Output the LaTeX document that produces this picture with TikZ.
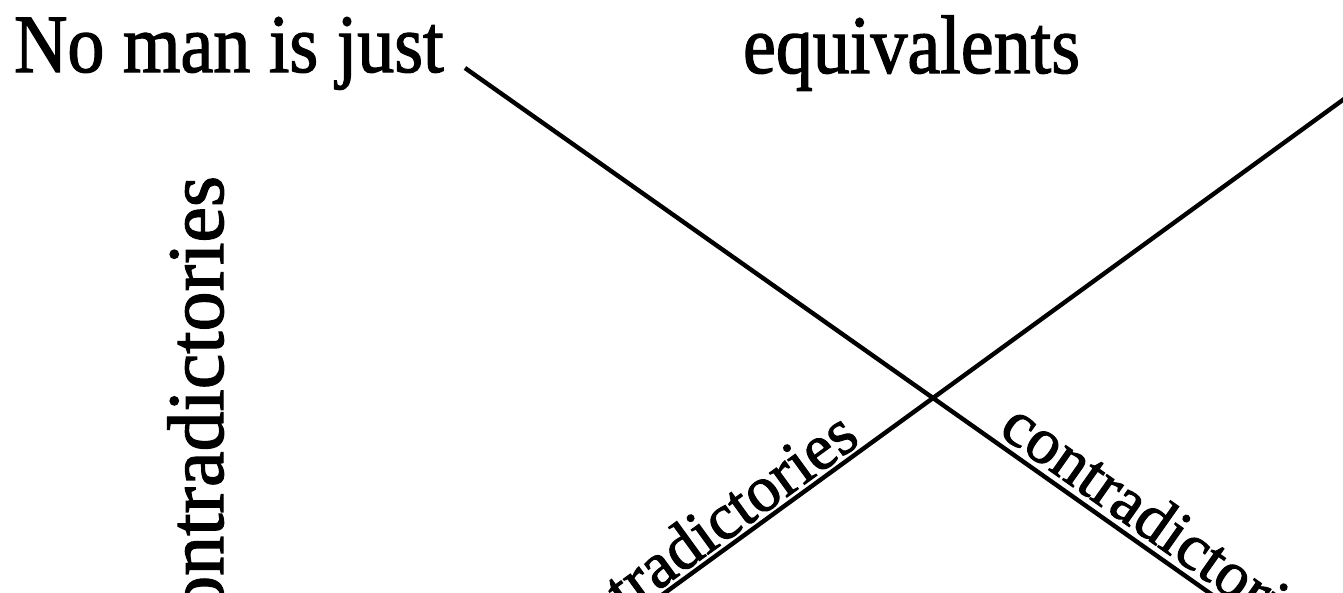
\documentclass[tikz,border=0pt]{standalone}
\usepackage{fontspec}
\setmainfont{Liberation Serif}[FakeBold=1.6]
\begin{document}
\begin{tikzpicture}[x=1pt,y=-1pt,
  lbl/.style={inner sep=0pt, outer sep=0pt, font=\fontsize{74}{80}\selectfont},
  vlbl/.style={inner sep=0pt, outer sep=0pt, font=\fontsize{80}{86}\selectfont},
  dlbl/.style={inner sep=0pt, outer sep=0pt, font=\fontsize{65}{70}\selectfont},
  conn/.style={line width=4.4pt, line cap=butt, black}]
\useasboundingbox (0,0) rectangle (1343,592);
\clip (0,0) rectangle (1343,592);
% labels
\node[lbl, anchor=base west, yscale=1.12] (noman) at (14,72) {No man is just};
\node[lbl, anchor=base west, yscale=1.12] (equiv) at (743,73) {equivalents};
\node[vlbl, anchor=base east, rotate=90] (cleft) at (223,176) {contradictories};
% connector points
\coordinate (s1) at (465,68);
\coordinate (X) at (933,398);
\coordinate (e1) at (1401,728);
\coordinate (s2) at (600,640);
\coordinate (e2) at (1384,70);
% connectors
\draw[conn] (s1) -- (X) -- (e1);
\draw[conn] (s2) -- (X) -- (e2);
% diagonal labels
\node[dlbl, anchor=base east, rotate=36] (cll) at (861.7,442.8) {contradictories};
\node[dlbl, anchor=base west, rotate=-35.2] (clr) at (997.2,433.6) {contradictories};
\end{tikzpicture}
\end{document}
